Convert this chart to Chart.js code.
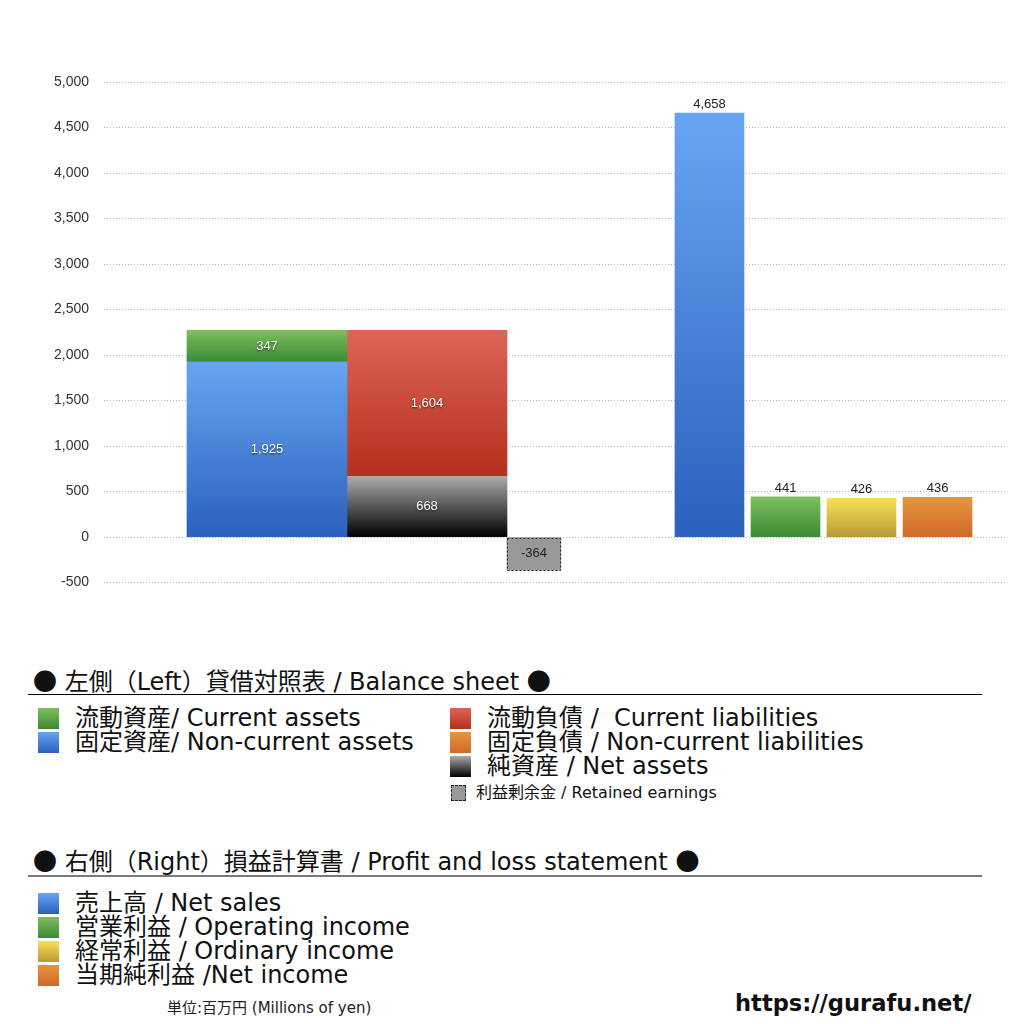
<!DOCTYPE html>
<html>
<head>
<meta charset="utf-8">
<script src="https://cdn.jsdelivr.net/npm/chart.js@4/dist/chart.umd.min.js"></script>
<style>
body { margin: 0; width: 1024px; height: 1024px; position: relative; background: #fff; overflow: hidden;
  font-family: "DejaVu Sans", "Noto Sans CJK JP", sans-serif; color: #111; }
#chartBox { position: absolute; left: 0; top: 0; width: 1024px; height: 606px; }
.head { position: absolute; left: 33px; font-size: 24px; line-height: 24px; white-space: pre; }
.dot { font-family: "Noto Sans CJK JP", sans-serif; }
.rule { position: absolute; left: 28px; width: 954px; height: 0; }
.row { position: absolute; font-size: 24px; line-height: 24px; height: 24px; white-space: pre; }
.row.small { font-size: 16px; }
.sw { position: absolute; width: 21px; height: 21px; }
.unit { position: absolute; left: 167px; top: 998px; font-size: 15px; line-height: 20px; color: #222; }
.url { position: absolute; left: 735px; top: 990px; font-family: "DejaVu Sans", sans-serif; font-weight: bold; font-size: 22.6px; line-height: 26px; }
</style>
</head>
<body>
<div id="chartBox"><canvas id="myChart" width="1024" height="606"></canvas></div>

<div class="head" style="top:668px"><span class="dot">●</span> 左側（Left）貸借対照表 / Balance sheet <span class="dot">●</span></div>
<div class="rule" style="top:694px;border-top:1px solid #000"></div>
<div id="bsLegend"></div>

<div class="head" style="top:848px"><span class="dot">●</span> 右側（Right）損益計算書 / Profit and loss statement <span class="dot">●</span></div>
<div class="rule" style="top:875px;border-top:2px solid #7a7a7a"></div>
<div id="plLegend"></div>

<div class="unit">単位:百万円 (Millions of yen)</div>
<div class="url">https://gurafu.net/</div>

<script>
// values (millions of yen)
const assetLabels = ['固定資産/ Non-current assets', '流動資産/ Current assets'];
const assetValues = [1925, 347];
const claimLabels = ['純資産 / Net assets', '固定負債 / Non-current liabilities', '流動負債 /  Current liabilities'];
const claimValues = [668, 0, 1604];
const retainedLabels = ['利益剰余金 / Retained earnings'];
const retainedValues = [-364];
const plLabels = ['売上高 / Net sales', '営業利益 / Operating income', '経常利益 / Ordinary income', '当期純利益 /Net income'];
const plValues = [4658, 441, 426, 436];
const yMin = -500;
const yMax = 5000;
const yStep = 500;

// colours (top, bottom of each gradient)
const colors = {
	blue: ['#67a5f2', '#2b60bd'],
	green: ['#7dbf5c', '#3b8a36'],
	red: ['#dd6558', '#b52f1c'],
	orange: ['#e4963e', '#d0692b'],
	black: ['#ababab', '#000000'],
	yellow: ['#f7e055', '#b99a36'],
	gray: ['#999999', '#999999']
};
const assetColors = [colors.blue, colors.green];
const claimColors = [colors.black, colors.orange, colors.red];
const plColors = [colors.blue, colors.green, colors.yellow, colors.orange];

// where each column sits on the hidden x scale (0-100 across the plot)
const slots = { assets: 18.09, claims: 35.85, retained: 47.72, pl: [67.2, 75.64, 84.07, 92.51] };
const widths = { bs: 160, retained: 54, pl: 69 };

function vgrad(pair, base) {
	return function(c) {
		const chart = c.chart;
		const ys = chart.scales.y;
		if (!chart.chartArea || !ys || c.type !== 'data') return pair[1];
		const lo = base;
		const hi = base + c.raw.y;
		const g = chart.ctx.createLinearGradient(0, ys.getPixelForValue(Math.max(lo, hi)), 0, ys.getPixelForValue(Math.min(lo, hi)));
		g.addColorStop(0, pair[0]);
		g.addColorStop(1, pair[1]);
		return g;
	};
}

function makeBar(label, x, value, base, pair, thick, labelMode) {
	return {
		label: label,
		data: [{ x: x, y: value }],
		backgroundColor: vgrad(pair, base),
		borderWidth: 0,
		barThickness: thick,
		stack: 'all',
		labelMode: labelMode
	};
}

let datasets = [];
let run = 0;
assetLabels.forEach((l, i) => {
	datasets.push(makeBar(l, slots.assets, assetValues[i], run, assetColors[i], widths.bs, 'inside'));
	run += assetValues[i];
});
run = 0;
claimLabels.forEach((l, i) => {
	datasets.push(makeBar(l, slots.claims, claimValues[i], run, claimColors[i], widths.bs, 'inside'));
	run += claimValues[i];
});
retainedLabels.forEach((l, i) => {
	let d = makeBar(l, slots.retained, retainedValues[i], 0, colors.gray, widths.retained, 'dark');
	d.dashed = true;
	datasets.push(d);
});
plLabels.forEach((l, i) => {
	datasets.push(makeBar(l, slots.pl[i], plValues[i], 0, plColors[i], widths.pl, 'above'));
});

const barLabels = {
	id: 'barLabels',
	afterDatasetsDraw(chart) {
		const ctx = chart.ctx;
		ctx.save();
		ctx.font = '13px "Liberation Sans", sans-serif';
		ctx.textAlign = 'center';
		ctx.textBaseline = 'middle';
		chart.data.datasets.forEach((ds, i) => {
			const meta = chart.getDatasetMeta(i);
			meta.data.forEach((bar, j) => {
				const v = ds.data[j].y;
				if (!v) return;
				if (ds.dashed) {
					ctx.save();
					ctx.setLineDash([2, 2]);
					ctx.strokeStyle = '#222';
					ctx.lineWidth = 1;
					ctx.strokeRect(Math.round(bar.x - bar.width / 2) + 0.5, Math.round(bar.base) + 0.5, Math.round(bar.width) - 1, Math.round(bar.y - bar.base) - 1);
					ctx.restore();
				}
				const text = v.toLocaleString('en-US');
				if (ds.labelMode === 'above') {
					ctx.fillStyle = '#222';
					ctx.fillText(text, bar.x, bar.y - 9);
				} else if (ds.labelMode === 'dark') {
					ctx.fillStyle = '#222';
					ctx.fillText(text, bar.x, (bar.y + bar.base) / 2);
				} else {
					ctx.save();
					ctx.shadowColor = 'rgba(0,0,0,0.65)';
					ctx.shadowBlur = 2;
					ctx.shadowOffsetY = 1;
					ctx.fillStyle = '#fff';
					ctx.fillText(text, bar.x, (bar.y + bar.base) / 2);
					ctx.restore();
				}
			});
		});
		ctx.restore();
	}
};

const ctx = document.getElementById('myChart');
const myChart = new Chart(ctx, {
	type: 'bar',
	data: { datasets: datasets },
	options: {
		responsive: false,
		animation: false,
		// bottom space comes from the tick padding + half a label
		layout: { padding: { top: 82, bottom: 0, left: 0, right: 19 } },
		plugins: { legend: { display: false }, tooltip: { enabled: false } },
		scales: {
			x: { type: 'linear', min: 0, max: 100, display: false, offset: false, stacked: true },
			y: {
				stacked: true,
				min: yMin,
				max: yMax,
				afterFit: function(scale) { scale.width = 104; },
				border: { display: false, dash: [1, 2] },
				grid: { color: '#b5b5b5', drawTicks: false, lineWidth: 1 },
				ticks: {
					stepSize: yStep,
					padding: 15,
					color: '#333',
					font: { family: '"Liberation Sans", sans-serif', size: 14 },
					callback: v => v.toLocaleString('en-US')
				}
			}
		}
	},
	plugins: [barLabels]
});

// legend built from the same label lists
function cssGrad(pair) {
	return 'linear-gradient(' + pair[0] + ',' + pair[1] + ')';
}
function addRow(parent, x, top, pair, text, small) {
	const sw = document.createElement('div');
	sw.className = 'sw';
	sw.style.left = x + 'px';
	if (small) {
		sw.style.top = (top + 4) + 'px';
		sw.style.width = '13px';
		sw.style.height = '14px';
		sw.style.background = '#999';
		sw.style.border = '1px dashed #222';
	} else {
		sw.style.top = (top + 2) + 'px';
		sw.style.background = cssGrad(pair);
	}
	parent.appendChild(sw);
	const t = document.createElement('div');
	t.className = small ? 'row small' : 'row';
	t.style.left = (x + (small ? 25 : 37)) + 'px';
	t.style.top = top + 'px';
	t.textContent = text;
	parent.appendChild(t);
}
const bsLeg = document.getElementById('bsLegend');
addRow(bsLeg, 38, 706, colors.green, assetLabels[1]);
addRow(bsLeg, 38, 730, colors.blue, assetLabels[0]);
addRow(bsLeg, 450, 706, colors.red, claimLabels[2]);
addRow(bsLeg, 450, 730, colors.orange, claimLabels[1]);
addRow(bsLeg, 450, 754, colors.black, claimLabels[0]);
addRow(bsLeg, 451, 781, colors.gray, retainedLabels[0], true);
const plLeg = document.getElementById('plLegend');
plLabels.forEach((l, i) => addRow(plLeg, 38, 891 + i * 24, plColors[i], l));
</script>
</body>
</html>
